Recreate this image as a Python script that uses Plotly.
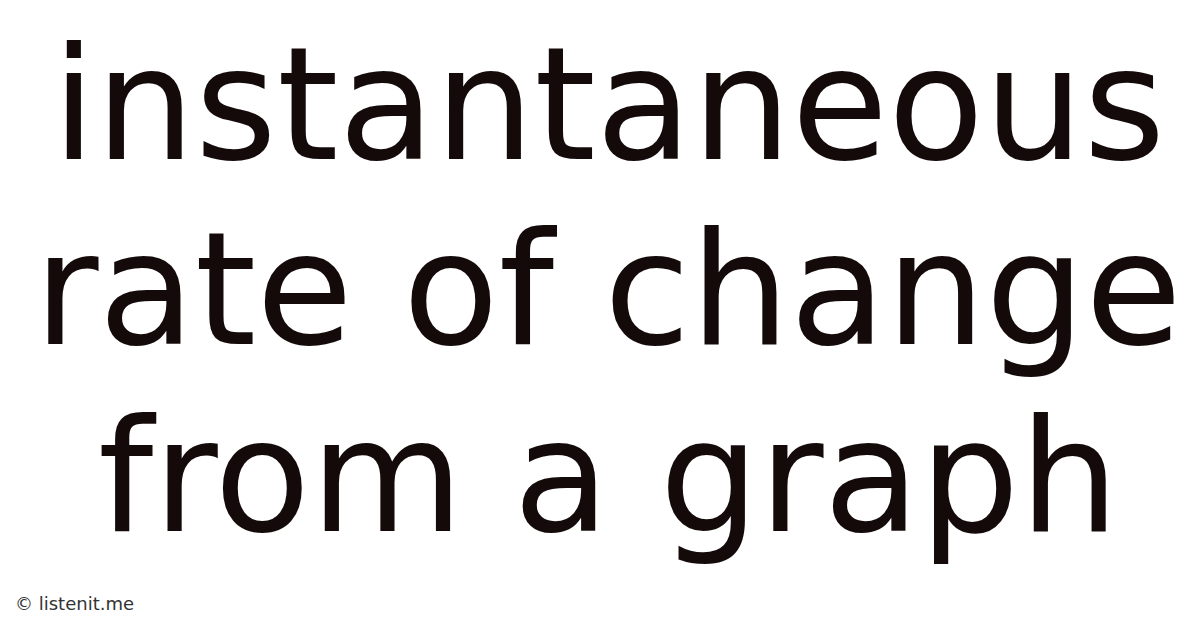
import plotly.graph_objects as go

# text content of the card
title_lines = ["instantaneous", "rate of change", "from a graph"]
line_y = [0.846, 0.551, 0.254]  # vertical centres (paper coords)
footer = "© listenit.me"

fig = go.Figure()

for txt, y in zip(title_lines, line_y):
    fig.add_annotation(
        text=txt, x=0.5, y=y, xref="paper", yref="paper",
        xanchor="center", yanchor="middle", showarrow=False,
        font=dict(family="DejaVu Sans", size=157, color="#140a0a"),
    )

fig.add_annotation(
    text=footer, x=0.004, y=0.051, xref="paper", yref="paper",
    xanchor="left", yanchor="middle", showarrow=False,
    font=dict(family="DejaVu Sans", size=18, color="#333333"),
)

fig.update_xaxes(visible=False)
fig.update_yaxes(visible=False)
fig.update_layout(
    width=1200, height=628,
    margin=dict(l=0, r=0, t=0, b=0),
    paper_bgcolor="white", plot_bgcolor="white",
)

fig.write_html("out.html")
